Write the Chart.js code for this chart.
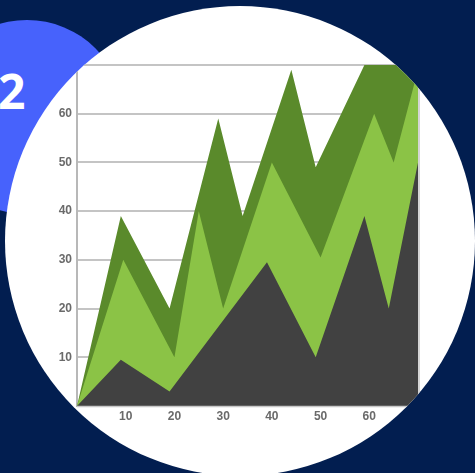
<!DOCTYPE html>
<html>
<head>
<meta charset="utf-8">
<script src="https://cdn.jsdelivr.net/npm/chart.js@4/dist/chart.umd.min.js"></script>
<style>
  html, body { margin: 0; padding: 0; }
  body { width: 475px; height: 473px; background: #021e50; position: relative; overflow: hidden; }
  #blue { position: absolute; left: -70px; top: 20px; width: 194px; height: 194px; border-radius: 50%; background: #4762fc; }
  #num { position: absolute; left: -2px; top: 67px; font-family: "Open Sans", sans-serif; font-weight: 700; font-size: 48px; line-height: 48px; color: #fff; }
  #disc { position: absolute; left: 0; top: 0; width: 475px; height: 473px; background: #fff; clip-path: circle(235px at 240px 241px); }
  #c { position: absolute; left: 0; top: 0; }
</style>
</head>
<body>
<div id="blue"></div>
<div id="num">2</div>
<div id="disc"><canvas id="c" width="475" height="473"></canvas></div>
<script>
// Series (x, y pairs per layer)
const grayX  = [0, 9, 19, 39, 49, 59, 64, 70];
const grayY  = [0, 9.5, 3, 29.5, 10, 39, 20, 50];
const lightX = [0, 9.5, 20, 25, 30, 40, 50, 61, 65, 70];
const lightY = [0, 30, 10, 40, 20, 50, 30.5, 60, 50, 69];
const darkX  = [0, 9, 19, 29, 34, 44, 49, 59, 70];
const darkY  = [0, 39, 20, 59, 39, 69, 49, 70, 70];
const xTicks = [10, 20, 30, 40, 50, 60];
const yTicks = [10, 20, 30, 40, 50, 60];

const pts = (xs, ys) => xs.map((x, i) => ({ x: x, y: ys[i] }));

const frame = {
  id: 'frame',
  afterDatasetsDraw(chart) {
    const a = chart.chartArea, ctx = chart.ctx;
    ctx.save();
    ctx.strokeStyle = '#c8c8c8';
    ctx.lineWidth = 1.5;
    ctx.beginPath();
    ctx.moveTo(a.right + 1, a.top);
    ctx.lineTo(a.right + 1, a.bottom);
    ctx.moveTo(a.left, a.bottom + 0.5);
    ctx.lineTo(a.right + 1, a.bottom + 0.5);
    ctx.stroke();
    ctx.restore();
  }
};

const common = { borderWidth: 0, pointRadius: 0, tension: 0, fill: 'origin' };

new Chart(document.getElementById('c'), {
  type: 'line',
  data: {
    datasets: [
      Object.assign({ label: 'A', data: pts(grayX, grayY), backgroundColor: '#414141', borderColor: '#414141' }, common),
      Object.assign({ label: 'B', data: pts(lightX, lightY), backgroundColor: '#8bc346', borderColor: '#8bc346' }, common),
      Object.assign({ label: 'C', data: pts(darkX, darkY), backgroundColor: '#5a8a2b', borderColor: '#5a8a2b' }, common)
    ]
  },
  options: {
    responsive: false,
    devicePixelRatio: 1,
    animation: false,
    layout: { padding: { left: 0, right: 57, top: 65, bottom: 0 } },
    plugins: { legend: { display: false }, tooltip: { enabled: false } },
    scales: {
      x: {
        type: 'linear', min: 0, max: 70,
        afterFit: s => { s.height = 67; },
        afterBuildTicks: s => { s.ticks = xTicks.map(v => ({ value: v })); },
        grid: { display: false, drawTicks: false },
        border: { display: false },
        ticks: { padding: 3, color: '#6a6a6a', font: { family: 'Liberation Sans', size: 12, weight: 'bold' } }
      },
      y: {
        type: 'linear', min: 0, max: 70,
        afterFit: s => { s.width = 77; },
        ticks: {
          stepSize: 10, padding: 5, color: '#6a6a6a',
          font: { family: 'Liberation Sans', size: 12, weight: 'bold' },
          callback: v => (yTicks.includes(v) ? String(v) : '')
        },
        grid: { color: '#c4c4c4', lineWidth: 2, drawTicks: false },
        border: { color: '#b8b8b8', width: 2 }
      }
    }
  },
  plugins: [frame]
});
</script>
</body>
</html>
